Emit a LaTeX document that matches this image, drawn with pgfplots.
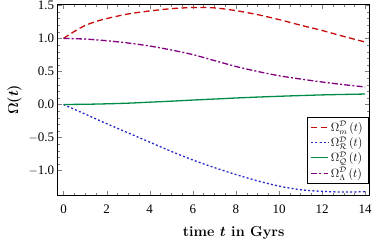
\documentclass[border=0pt]{standalone}
\usepackage{fontspec}
\newfontfamily\tickfont{Liberation Serif}
\usepackage{bm}
\usepackage{pgfplots}
\pgfplotsset{compat=1.18}
\definecolor{cred}{RGB}{200,10,10}
\definecolor{cblue}{RGB}{40,40,200}
\definecolor{cgreen}{RGB}{0,140,70}
\definecolor{cpurple}{RGB}{128,0,128}
\begin{document}
\begin{tikzpicture}
\path[use as bounding box] (-57.7pt,-47pt) rectangle (316.3pt,195pt);
\begin{axis}[
  scale only axis, width=311.8pt, height=190.3pt,
  xmin=-0.27, xmax=14.2, ymin=-1.37, ymax=1.51,
  axis line style={line width=0.9pt},
  xtick={0,2,4,6,8,10,12,14},
  xticklabels={0,2,4,6,8,10,12,14},
  ytick={-1,-0.5,0,0.5,1,1.5},
  yticklabels={$-$1.0,$-$0.5,0.0,0.5,1.0,1.5},
  minor x tick num=3, minor y tick num=4,
  tick align=inside,
  major tick length=4.5pt, minor tick length=2.5pt,
  ticklabel style={font=\tickfont\fontsize{13}{15}\selectfont},
  xticklabel style={yshift=-6pt},
  xlabel={\Large\bfseries time $\bm{t}$ in Gyrs},
  ylabel={\Large $\bm{\Omega(t)}$},
  xlabel style={xshift=20pt, yshift=-6pt},
  legend style={at={(0.995,0.063)}, anchor=south east, font=\large},
  legend cell align=left,
]
\addplot[cred, line width=1.3pt, dash pattern=on 6pt off 3.5pt, smooth] coordinates {
(0,1.00) (0.5,1.105) (1,1.195) (1.5,1.255) (2,1.30) (3,1.37) (4,1.415) (5,1.45) (6,1.467) (7,1.462) (8,1.42) (9,1.36) (10,1.285) (11,1.20) (12,1.12) (13,1.03) (14,0.945)};
\addlegendentry{$\Omega^{\mathcal{D}}_{m}\,(t)$}
\addplot[cblue, line width=1.3pt, dash pattern=on 2pt off 2.2pt, smooth] coordinates {
(0,0) (1,-0.145) (2,-0.29) (3,-0.43) (4,-0.57) (5,-0.71) (6,-0.84) (7,-0.955) (8,-1.06) (9,-1.155) (10,-1.235) (11,-1.29) (12,-1.315) (13,-1.325) (14,-1.32)};
\addlegendentry{$\Omega^{\mathcal{D}}_{\mathcal{R}}\,(t)$}
\addplot[cgreen, line width=1.3pt, smooth] coordinates {
(0,0) (1,0.003) (2,0.01) (3,0.02) (4,0.035) (5,0.05) (6,0.067) (7,0.082) (8,0.098) (9,0.112) (10,0.124) (11,0.135) (12,0.145) (13,0.152) (14,0.158)};
\addlegendentry{$\Omega^{\mathcal{D}}_{\mathcal{Q}}\,(t)$}
\addplot[cpurple, line width=1.3pt, dash pattern=on 6pt off 2.2pt on 2pt off 2.2pt, smooth] coordinates {
(0,1.0) (1,0.99) (2,0.965) (3,0.93) (4,0.885) (5,0.825) (6,0.755) (7,0.665) (8,0.575) (9,0.50) (10,0.435) (11,0.385) (12,0.34) (13,0.30) (14,0.265)};
\addlegendentry{$\Omega^{\mathcal{D}}_{\Lambda}\,(t)$}
\end{axis}
\end{tikzpicture}
\end{document}
